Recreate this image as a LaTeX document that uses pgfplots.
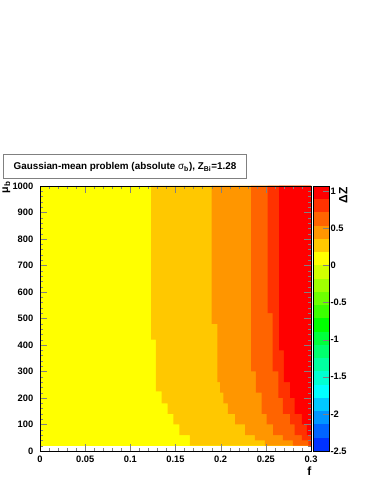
\documentclass[border=0pt]{standalone}
\usepackage{fontspec}
\setmainfont{Liberation Sans}
\usepackage{pgfplots}
\pgfplotsset{compat=1.18}

% ROOT palette bands (bottom -> top)
\definecolor{c01}{RGB}{0,50,255}
\definecolor{c02}{RGB}{0,100,255}
\definecolor{c03}{RGB}{0,150,255}
\definecolor{c04}{RGB}{0,200,255}
\definecolor{c05}{RGB}{0,255,255}
\definecolor{c06}{RGB}{0,255,210}
\definecolor{c07}{RGB}{0,255,160}
\definecolor{c08}{RGB}{0,255,110}
\definecolor{c09}{RGB}{0,255,60}
\definecolor{c10}{RGB}{0,255,0}
\definecolor{c11}{RGB}{60,255,0}
\definecolor{c12}{RGB}{110,255,0}
\definecolor{c13}{RGB}{160,255,0}
\definecolor{c14}{RGB}{210,255,0}
\definecolor{c15}{RGB}{255,255,0}
\definecolor{c16}{RGB}{255,200,0}
\definecolor{c17}{RGB}{255,150,0}
\definecolor{c18}{RGB}{255,100,0}
\definecolor{c19}{RGB}{255,50,0}
\definecolor{c20}{RGB}{255,0,0}

\newcommand{\lab}{\fontsize{7}{8}\selectfont\bfseries}

\begin{document}
\begin{tikzpicture}
\path[fill=white, use as bounding box] (0,0) rectangle (280.5pt,363pt);

% title box
\draw[gray, line width=0.75pt, fill=white] (2.5pt,228.75pt) rectangle (185pt,246.75pt);
\node[font=\fontsize{7.4}{9}\selectfont\bfseries] at (93.75pt,237.75pt)
  {Gaussian-mean problem (absolute {\mdseries σ}\textsubscript{b}), Z\textsubscript{Bi}=1.28};

\begin{axis}[
  at={(30pt,24.75pt)}, anchor=south west,
  scale only axis, width=203.25pt, height=198.75pt,
  xmin=0, xmax=0.3, ymin=0, ymax=1000,
  axis on top,
  axis line style={line width=0.6pt},
  tick align=inside, xtick pos=both, ytick pos=both,
  xticklabel pos=left, yticklabel pos=left,
  xtick={0,0.05,0.1,0.15,0.2,0.25,0.3},
  xticklabels={0,0.05,0.1,0.15,0.2,0.25,0.3},
  ytick={0,100,200,300,400,500,600,700,800,900,1000},
  yticklabels={0,100,200,300,400,500,600,700,800,900,1000},
  minor x tick num=4, minor y tick num=4,
  major tick length=5pt, minor tick length=2.5pt,
  scaled x ticks=false,
  ticklabel style={font=\lab},
  yticklabel style={xshift=-1.5pt},
]
% yellow base (rows from 20 up)
\addplot[fill=c15, draw=none] coordinates {
 (0,20) (0.3,20) (0.3,1000) (0,1000)} -- cycle;
% orange-yellow band
\addplot[fill=c16, draw=none] coordinates {
 (0.1229,1000) (0.1229,420) (0.1284,420) (0.1284,225) (0.1347,225) (0.1347,180)
 (0.1414,180) (0.1414,140) (0.1476,140) (0.1476,100) (0.1542,100) (0.1542,60)
 (0.166,60) (0.166,20) (0.3,20) (0.3,1000)} -- cycle;
% orange band
\addplot[fill=c17, draw=none] coordinates {
 (0.190,1000) (0.190,480) (0.1963,480) (0.1963,260) (0.1993,260) (0.1993,220)
 (0.203,220) (0.203,180) (0.208,180) (0.208,140) (0.216,140) (0.216,100)
 (0.227,100) (0.227,60) (0.238,60) (0.238,40) (0.249,40) (0.249,20)
 (0.3,20) (0.3,1000)} -- cycle;
% dark orange band
\addplot[fill=c18, draw=none] coordinates {
 (0.2336,1000) (0.2336,300) (0.239,300) (0.239,220) (0.2454,220) (0.2454,140)
 (0.251,140) (0.251,100) (0.258,100) (0.258,60) (0.269,60) (0.269,40)
 (0.28,40) (0.28,20) (0.3,20) (0.3,1000)} -- cycle;
% red-orange band
\addplot[fill=c19, draw=none] coordinates {
 (0.252,1000) (0.252,520) (0.2576,520) (0.2576,300) (0.264,300) (0.264,200)
 (0.269,200) (0.269,140) (0.2768,140) (0.2768,100) (0.282,100) (0.282,60)
 (0.29,60) (0.29,40) (0.297,40) (0.297,20) (0.3,20) (0.3,1000)} -- cycle;
% red band
\addplot[fill=c20, draw=none] coordinates {
 (0.2646,1000) (0.2646,380) (0.27,380) (0.27,260) (0.277,260) (0.277,200)
 (0.282,200) (0.282,140) (0.29,140) (0.29,100) (0.2953,100) (0.2953,60)
 (0.3,60) (0.3,1000)} -- cycle;
\end{axis}

% colour scale
\begin{axis}[
  at={(234.75pt,24.75pt)}, anchor=south west,
  scale only axis, width=12pt, height=198.75pt,
  xmin=0, xmax=1, ymin=-2.5, ymax=1.07,
  axis on top,
  axis line style={line width=0.4pt},
  xtick=\empty,
  tick align=inside, ytick pos=right, yticklabel pos=right,
  ytick={-2.5,-2,-1.5,-1,-0.5,0,0.5,1},
  yticklabels={-2.5,-2,-1.5,-1,-0.5,0,0.5,1},
  major tick length=4.5pt,
  ticklabel style={font=\lab},
  yticklabel style={inner sep=1pt},
]
\addplot[fill=c01, draw=none] coordinates {(0,-2.5) (1,-2.5) (1,-2.3215) (0,-2.3215)} -- cycle;
\addplot[fill=c02, draw=none] coordinates {(0,-2.3215) (1,-2.3215) (1,-2.143) (0,-2.143)} -- cycle;
\addplot[fill=c03, draw=none] coordinates {(0,-2.143) (1,-2.143) (1,-1.9645) (0,-1.9645)} -- cycle;
\addplot[fill=c04, draw=none] coordinates {(0,-1.9645) (1,-1.9645) (1,-1.786) (0,-1.786)} -- cycle;
\addplot[fill=c05, draw=none] coordinates {(0,-1.786) (1,-1.786) (1,-1.6075) (0,-1.6075)} -- cycle;
\addplot[fill=c06, draw=none] coordinates {(0,-1.6075) (1,-1.6075) (1,-1.429) (0,-1.429)} -- cycle;
\addplot[fill=c07, draw=none] coordinates {(0,-1.429) (1,-1.429) (1,-1.2505) (0,-1.2505)} -- cycle;
\addplot[fill=c08, draw=none] coordinates {(0,-1.2505) (1,-1.2505) (1,-1.072) (0,-1.072)} -- cycle;
\addplot[fill=c09, draw=none] coordinates {(0,-1.072) (1,-1.072) (1,-0.8935) (0,-0.8935)} -- cycle;
\addplot[fill=c10, draw=none] coordinates {(0,-0.8935) (1,-0.8935) (1,-0.715) (0,-0.715)} -- cycle;
\addplot[fill=c11, draw=none] coordinates {(0,-0.715) (1,-0.715) (1,-0.5365) (0,-0.5365)} -- cycle;
\addplot[fill=c12, draw=none] coordinates {(0,-0.5365) (1,-0.5365) (1,-0.358) (0,-0.358)} -- cycle;
\addplot[fill=c13, draw=none] coordinates {(0,-0.358) (1,-0.358) (1,-0.1795) (0,-0.1795)} -- cycle;
\addplot[fill=c14, draw=none] coordinates {(0,-0.1795) (1,-0.1795) (1,-0.001) (0,-0.001)} -- cycle;
\addplot[fill=c15, draw=none] coordinates {(0,-0.001) (1,-0.001) (1,0.1775) (0,0.1775)} -- cycle;
\addplot[fill=c16, draw=none] coordinates {(0,0.1775) (1,0.1775) (1,0.356) (0,0.356)} -- cycle;
\addplot[fill=c17, draw=none] coordinates {(0,0.356) (1,0.356) (1,0.5345) (0,0.5345)} -- cycle;
\addplot[fill=c18, draw=none] coordinates {(0,0.5345) (1,0.5345) (1,0.713) (0,0.713)} -- cycle;
\addplot[fill=c19, draw=none] coordinates {(0,0.713) (1,0.713) (1,0.8915) (0,0.8915)} -- cycle;
\addplot[fill=c20, draw=none] coordinates {(0,0.8915) (1,0.8915) (1,1.07) (0,1.07)} -- cycle;
\end{axis}

% axis titles
\node[rotate=90, anchor=east, font=\fontsize{8}{9}\selectfont\bfseries, inner sep=0pt]
  at (4.8pt,227.5pt) {μ\textsubscript{b}};
\node[anchor=north, font=\fontsize{9}{10}\selectfont\bfseries, inner sep=0pt]
  at (232pt,13pt) {f};
\node[rotate=90, anchor=east, font=\fontsize{9}{10}\selectfont\bfseries, inner sep=0pt]
  at (257.5pt,222.5pt) {ΔZ};
\end{tikzpicture}
\end{document}
